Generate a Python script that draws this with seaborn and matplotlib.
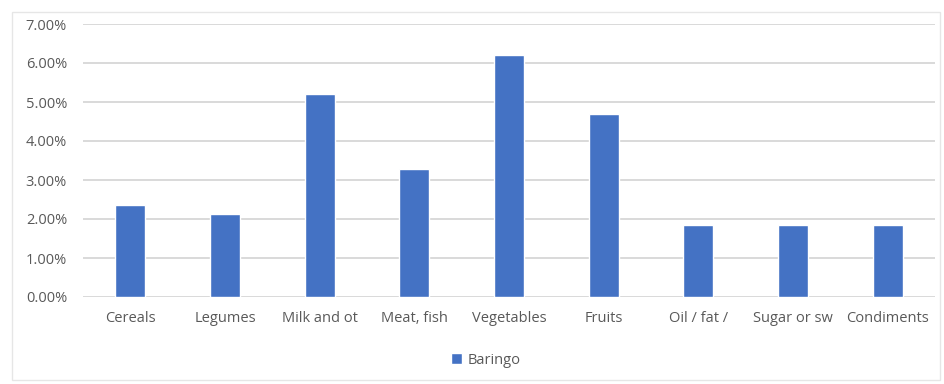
import matplotlib
matplotlib.use("Agg")
import matplotlib.pyplot as plt
from matplotlib.patches import Rectangle
from matplotlib.ticker import FuncFormatter, MultipleLocator
import seaborn as sns
import pandas as pd

# Food groups and share of consumption (percent)
categories = ["Cereals", "Legumes", "Milk and ot", "Meat, fish", "Vegetables",
              "Fruits", "Oil / fat /", "Sugar or sw", "Condiments"]
baringo = [2.36, 2.12, 5.20, 3.28, 6.21, 4.68, 1.85, 1.85, 1.85]
series_name = "Baringo"

BAR = "#4472C4"
GRID = "#D9D9D9"
TEXT = "#595959"

sns.set_style("white")
plt.rcParams["font.family"] = ["Open Sans", "DejaVu Sans"]

df = pd.DataFrame({"category": categories, "value": baringo})

fig = plt.figure(figsize=(9.44, 3.84), dpi=100)
fig.patch.set_facecolor("white")

# chart-area frame
fig.add_artist(Rectangle((12 / 944, 4 / 384), 928 / 944, 368 / 384,
                         transform=fig.transFigure, fill=False,
                         edgecolor="#E6E6E6", linewidth=1.0))

ax = fig.add_axes([83 / 944, 87 / 384, 852 / 944, 273 / 384])
sns.barplot(data=df, x="category", y="value", color=BAR, width=0.32,
            saturation=1, label=series_name, ax=ax)

ax.set_ylim(0, 7)
ax.set_xlim(-0.5, len(categories) - 0.5)
ax.yaxis.set_major_locator(MultipleLocator(1))
ax.yaxis.set_major_formatter(FuncFormatter(lambda v, _: f"{v:.2f}%"))
ax.grid(axis="y", color=GRID, linewidth=1.4)
ax.set_axisbelow(True)
for s in ax.spines.values():
    s.set_visible(False)
ax.set_xlabel("")
ax.set_ylabel("")
ax.tick_params(axis="both", length=0, labelsize=10.5, colors=TEXT)
ax.tick_params(axis="y", pad=11.5)
ax.tick_params(axis="x", pad=10)

ax.legend(loc="center", bbox_to_anchor=(486 / 944, 24 / 384),
          bbox_transform=fig.transFigure, frameon=False,
          fontsize=10.5, labelcolor=TEXT, handlelength=0.7, handleheight=0.7,
          handletextpad=0.4)

fig.savefig("out.png", dpi=100, facecolor="white")
